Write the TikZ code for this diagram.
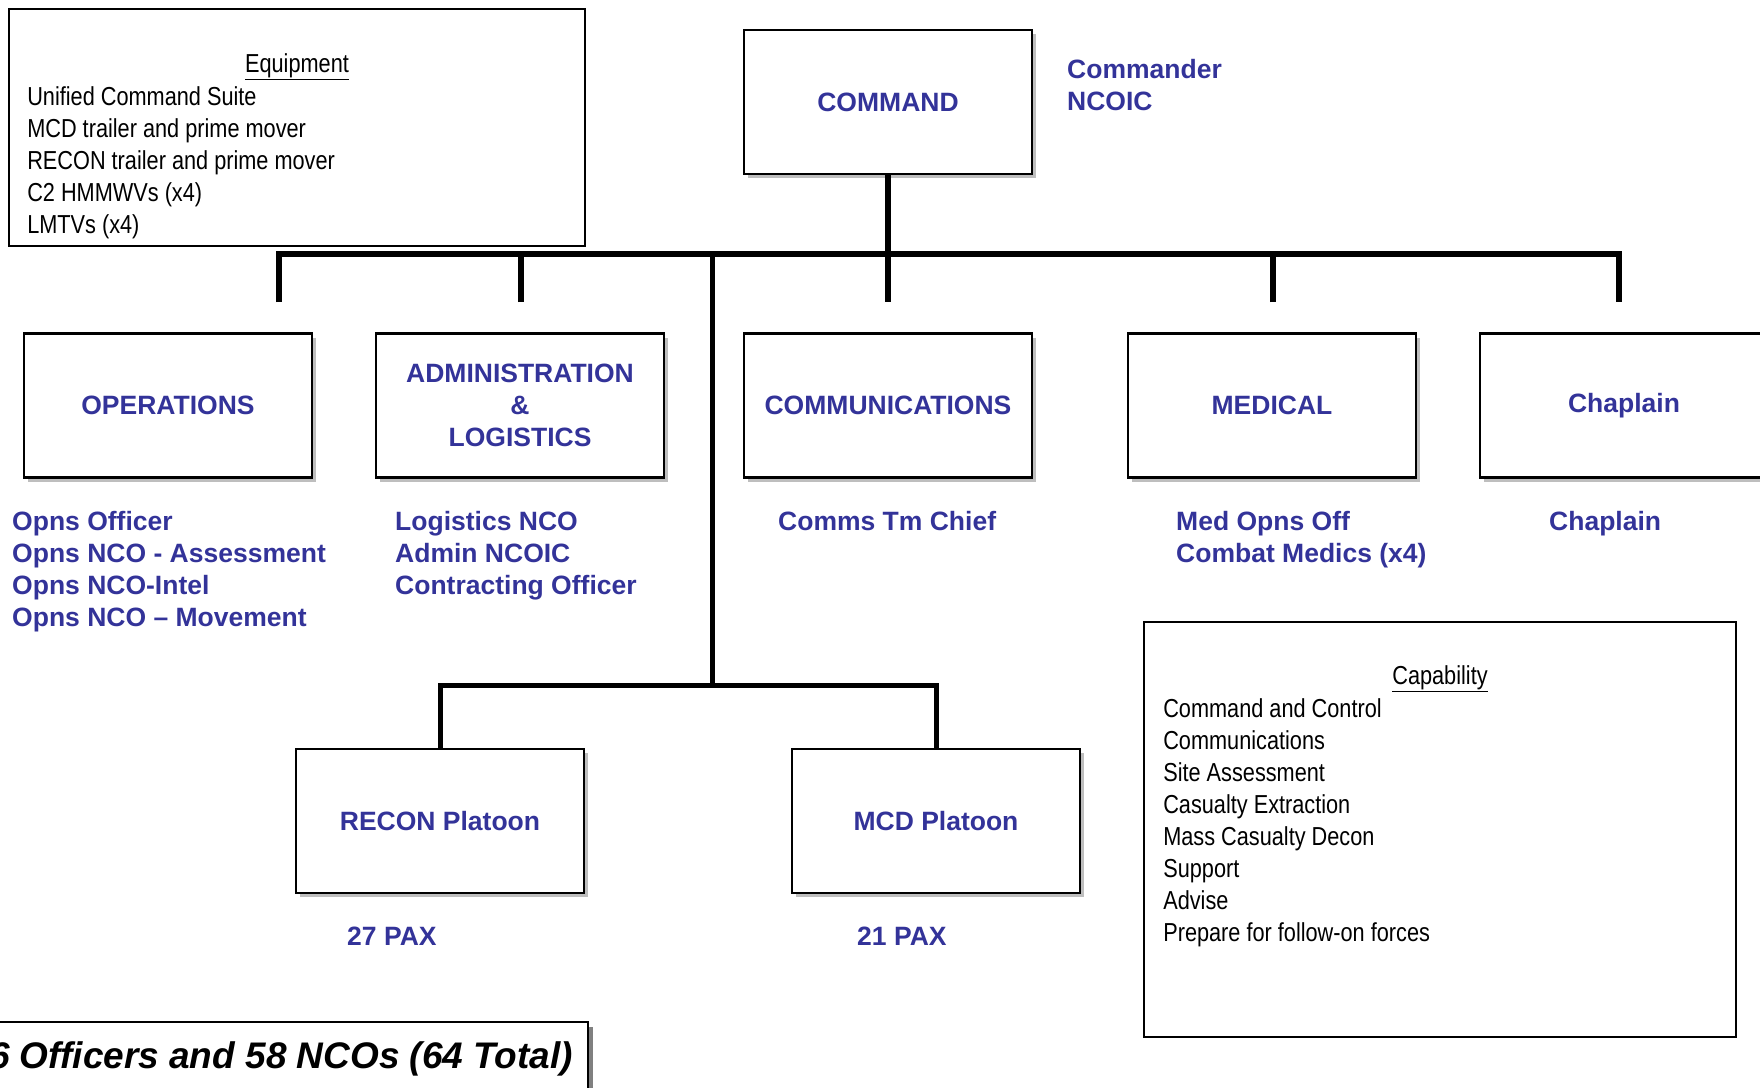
\documentclass[tikz,border=0pt]{standalone}
\usepackage{fontspec}
\setmainfont{Liberation Sans}
\newfontfamily\narrowfont[FakeStretch=0.835]{Liberation Sans}
\usepackage{xcolor}
\usepackage{tikz}
\usetikzlibrary{calc}
\usetikzlibrary{positioning}
\usetikzlibrary{shadows}

\definecolor{unitblue}{RGB}{51,51,153}
\definecolor{boxshade}{RGB}{190,190,190}
\definecolor{lineshade}{RGB}{128,128,128}

\newcommand{\bluefont}{\fontsize{26.5}{32}\selectfont\bfseries}
\newcommand{\listfont}{\narrowfont\fontsize{26}{32}\selectfont}

\begin{document}
\begin{tikzpicture}[x=1pt,y=-1pt,
    unit box/.style={rectangle,draw,line width=2.5pt,fill=white,minimum width=288pt,minimum height=144pt,inner sep=0pt,align=center,text=unitblue,font=\bluefont,drop shadow={shadow xshift=4pt,shadow yshift=-4pt,fill=boxshade,opacity=1}},
    staff list/.style={anchor=north west,inner sep=0pt,align=left,text=unitblue,font=\bluefont},
    info box/.style={rectangle,draw,line width=1.8pt,inner sep=0pt},
    info list/.style={anchor=north west,inner sep=0pt,align=left,font=\listfont},
    bus/.style={line width=6pt,line join=miter},
    bus shade/.style={line width=6pt,line join=miter,draw=lineshade,shift={(4,4)}},
    feed/.style={line width=5pt,line join=miter}]

    \useasboundingbox (0,0) rectangle (1760,1087);

    % unit boxes
    \node[unit box] (command) at (888,102) {COMMAND};
    \node[unit box,on grid,below=303.5pt of command] (communications) {COMMUNICATIONS};
    \node[unit box,on grid,left=368pt of communications] (admin-log) {ADMINISTRATION\\\&\\LOGISTICS};
    \node[unit box,on grid,left=352pt of admin-log] (operations) {OPERATIONS};
    \node[unit box,on grid,right=384pt of communications] (medical) {MEDICAL};
    \node[unit box,on grid,right=352pt of medical] (chaplain) {Chaplain};
    \node[unit box] (recon-plt) at (440,821) {RECON Platoon};
    \node[unit box,on grid,right=496pt of recon-plt] (mcd-plt) {MCD Platoon};

    % who is in each box
    \node[staff list] (command-staff) at (1067,59) {Commander\\NCOIC};
    \node[staff list] (operations-staff) at (12,511) {Opns Officer\\Opns NCO - Assessment\\Opns NCO-Intel\\Opns NCO -- Movement};
    \node[staff list] (admin-log-staff) at (395,511) {Logistics NCO\\Admin NCOIC\\Contracting Officer};
    \node[staff list] (communications-staff) at (778,511) {Comms Tm Chief};
    \node[staff list] (medical-staff) at (1176,511) {Med Opns Off\\Combat Medics (x4)};
    \node[staff list] (chaplain-staff) at (1549,511) {Chaplain};
    \node[staff list] (recon-pax) at (347,927) {27 PAX};
    \node[staff list] (mcd-pax) at (857,927) {21 PAX};

    % equipment and capability
    \node[info box,minimum width=576pt,minimum height=237pt] (equipment) at (297,127.5) {};
    \node[font=\listfont,inner sep=0pt] (equipment-title) at ($(equipment.north)+(0,59)$) {\underline{Equipment}};
    \node[info list] (equipment-list) at ($(equipment.north west)+(19,78)$) {Unified Command Suite\\MCD trailer and prime mover\\RECON trailer and prime mover\\C2 HMMWVs (x4)\\LMTVs (x4)};

    \node[info box,minimum width=592pt,minimum height=415pt] (capability) at (1440,829.5) {};
    \node[font=\listfont,inner sep=0pt] (capability-title) at ($(capability.north)+(0,58)$) {\underline{Capability}};
    \node[info list] (capability-list) at ($(capability.north west)+(20,77)$) {Command and Control\\Communications\\Site Assessment\\Casualty Extraction\\Mass Casualty Decon\\Support\\Advise\\Prepare for follow-on forces};

    \node[rectangle,draw,line width=1.8pt,fill=white,anchor=north east,minimum height=74pt,inner xsep=15pt,inner ysep=0pt,font=\fontsize{37}{40}\selectfont\bfseries\itshape,drop shadow={shadow xshift=5pt,shadow yshift=-5pt,fill=lineshade,opacity=1}] (total) at (589,1021) {6 Officers and 58 NCOs (64 Total)};

    % lines
    \coordinate (bus) at (888,254);
    \coordinate (ops-drop) at (279,302);
    \coordinate (admin-drop) at (521,302);
    \coordinate (comms-drop) at (888,302);
    \coordinate (med-drop) at (1273,302);
    \coordinate (chap-drop) at (1619,302);
    \coordinate (trunk-top) at (712,254);
    \coordinate (split) at (712,685);

    \draw[bus shade] (ops-drop) |- (bus) -| (chap-drop);
    \draw[bus shade] (command) -- (comms-drop);
    \foreach \d in {admin-drop,med-drop}
        \draw[bus shade] (\d) -- (\d |- bus);

    \draw[bus] (ops-drop) |- (bus) -| (chap-drop);
    \draw[bus] (command) -- (comms-drop);
    \foreach \d in {admin-drop,med-drop}
        \draw[bus] (\d) -- (\d |- bus);

    \draw[feed] (trunk-top) -- (split);
    \draw[feed] (recon-plt) |- (split) -| (mcd-plt);

\end{tikzpicture}
\end{document}
